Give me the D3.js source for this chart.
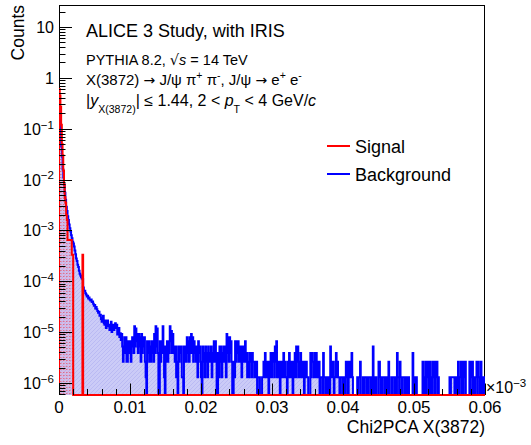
<!DOCTYPE html>
<html>
<head>
<meta charset="utf-8">
<script src="https://cdn.jsdelivr.net/npm/d3@7"></script>
<style>
  body { margin: 0; background: #fff; }
  svg { font-family: "Liberation Sans", Arial, Helvetica, sans-serif; }
</style>
</head>
<body>
<script>
// Axis ranges (x shown in units of 1e-3)
const xDomain = [0, 0.06];
const yDomain = [5.8e-7, 27];
const nBins = 600;

const xTicks = [0, 0.01, 0.02, 0.03, 0.04, 0.05, 0.06];
const xTickLabels = ['0', '0.01', '0.02', '0.03', '0.04', '0.05', '0.06'];
const yTicks = [1e-6, 1e-5, 1e-4, 1e-3, 1e-2, 1e-1, 1, 10];
const yTickBase = ['10', '10', '10', '10', '10', '10', '1', '10'];
const yTickExp = ['−6', '−5', '−4', '−3', '−2', '−1', '', ''];

const seriesNames = ['Signal', 'Background'];
const seriesColors = ['#ff0000', '#0000ff'];

// Signal: first bins only, the rest are empty
const sigValues = [
  0.6, 0.45, 0.27, 0.12, 0.05, 0.03, 0.015, 0.008, 4.5e-3, 3.5e-3,
  2e-3, 1.6e-3, 6.5e-4, 6.5e-4, 6.5e-4, 6.5e-4, 6.5e-4, 6.5e-4, 3.3e-4, 3.3e-4,
  0, 0, 0, 0, 0, 0, 0, 0, 0, 0,
  0, 0, 0, 3.3e-4
];

// Background, 600 bins
const bkgValues = [
  0.3, 0.15, 0.08, 0.045, 0.028, 0.016, 0.011, 0.008, 0.0055, 0.004,
  0.0029, 0.0024, 0.0019, 0.0016, 0.0013, 0.0011, 9.5e-4, 8e-4, 7e-4, 6e-4,
  5.5e-4, 4.8e-4, 4e-4, 3.4e-4, 2.8e-4, 2.5e-4, 2.1e-4, 1.9e-4, 1.6e-4, 1.4e-4,
  1.3e-4, 1.2e-4, 1.15e-4, 1.1e-4, 7.5e-5, 6.5e-5, 6.5e-5, 5.8e-5, 5.5e-5, 5.0e-5,
  5.2e-5, 4.6e-5, 4.8e-5, 4.4e-5, 4.2e-5, 4.4e-5, 3.9e-5, 4.0e-5, 3.6e-5, 3.3e-5,
  3.4e-5, 2.9e-5, 3.1e-5, 2.8e-5, 2.6e-5, 2.4e-5, 2.5e-5, 2.1e-5, 2.2e-5, 1.8e-5,
  1.6e-5, 1.9e-5, 2.1e-5, 1.5e-5, 1.4e-5, 1.7e-5, 1.2e-5, 1.5e-5, 1.7e-5, 1.3e-5,
  1.4e-5, 1.1e-5, 1.3e-5, 1.6e-5, 1.0e-5, 1.2e-5, 1.4e-5, 1.1e-5, 1.4e-5, 1.5e-5,
  1.2e-5, 1.4e-5, 9e-6, 1.1e-5, 1.2e-5, 8e-6, 9.5e-6, 7e-6,
  9.2e-6, 5.2e-6, 2.6e-6, 3.9e-6, 7.9e-6, 3.9e-6, 7.9e-6, 2.6e-6, 2.6e-6, 6.6e-6,
  6.6e-6, 3.9e-6, 6.6e-6, 2.6e-6, 5.2e-6, 7.9e-6, 6.6e-6, 3.9e-6, 1.31e-5, 5.2e-6,
  1.18e-5, 6.6e-6, 9.2e-6, 3.9e-6, 9.2e-6, 5.2e-6, 7.9e-6, 2.6e-6, 9.2e-6, 3.9e-6,
  7.9e-6, 5.2e-6, 7.9e-6, 2.6e-6, 1.3e-6, 0, 6.6e-6, 3.9e-6, 6.6e-6, 2.6e-6,
  5.2e-6, 2.6e-6, 6.6e-6, 3.9e-6, 6.6e-6, 2.6e-6, 9.2e-6, 3.9e-6, 1.31e-5, 5.2e-6,
  1.18e-5, 3.9e-6, 0, 0, 6.6e-6, 2.6e-6, 6.6e-6, 3.9e-6, 1.31e-5, 5.2e-6,
  1.3e-6, 0, 5.2e-6, 2.6e-6, 6.6e-6, 2.6e-6, 6.6e-6, 3.9e-6, 1.31e-5, 6.6e-6,
  1.05e-5, 3.9e-6, 9.2e-6, 3.9e-6, 5.2e-6, 2.6e-6, 5.2e-6, 1.3e-6, 2.6e-6, 0,
  5.2e-6, 2.6e-6, 5.2e-6, 3.9e-6, 5.2e-6, 1.3e-6, 1.3e-6, 0, 5.2e-6, 2.6e-6,
  5.2e-6, 2.6e-6, 7.9e-6, 3.9e-6, 6.6e-6, 2.6e-6, 7.9e-6, 3.9e-6, 9.2e-6, 3.9e-6,
  7.9e-6, 2.6e-6, 6.6e-6, 3.9e-6, 5.2e-6, 2.6e-6, 5.2e-6, 1.3e-6, 6.6e-6, 3.9e-6,
  5.2e-6, 2.6e-6, 1.3e-6, 0, 5.2e-6, 2.6e-6, 3.9e-6, 1.3e-6, 5.2e-6, 2.6e-6,
  3.9e-6, 1.3e-6, 5.2e-6, 2.6e-6, 3.9e-6, 2.6e-6, 5.2e-6, 1.3e-6, 3.9e-6, 2.6e-6,
  6.6e-6, 2.6e-6, 6.6e-6, 3.9e-6, 0, 0, 3.9e-6, 1.3e-6, 5.2e-6, 2.6e-6,
  5.2e-6, 1.3e-6, 3.9e-6, 2.6e-6, 5.2e-6, 2.6e-6, 5.2e-6, 1.3e-6, 9.2e-6, 3.9e-6,
  7.9e-6, 2.6e-6, 7.9e-6, 3.9e-6, 6.6e-6, 2.6e-6, 0, 0, 2.6e-6, 1.3e-6,
  6.6e-6, 2.6e-6, 6.6e-6, 3.9e-6, 6.6e-6, 2.6e-6, 5.2e-6, 2.6e-6, 5.2e-6, 1.3e-6,
  5.2e-6, 2.6e-6, 5.2e-6, 2.6e-6, 6.6e-6, 2.6e-6, 3.9e-6, 1.3e-6, 2.6e-6, 1.3e-6,
  3.9e-6, 2.6e-6, 3.9e-6, 1.3e-6, 3.9e-6, 2.6e-6, 2.6e-6, 1.3e-6, 2.6e-6, 1.3e-6,
  2.6e-6, 0, 1.3e-6, 1.3e-6, 1.3e-6, 0, 0, 0, 1.3e-6, 1.3e-6,
  2.6e-6, 1.3e-6, 3.9e-6, 1.3e-6, 2.6e-6, 1.3e-6, 2.6e-6, 0, 2.6e-6, 1.3e-6,
  3.9e-6, 1.3e-6, 3.9e-6, 2.6e-6, 3.9e-6, 1.3e-6, 5.2e-6, 2.6e-6, 6.6e-6, 1.3e-6,
  2.6e-6, 1.3e-6, 2.6e-6, 0, 2.6e-6, 1.3e-6, 2.6e-6, 1.3e-6, 3.9e-6, 1.3e-6,
  2.6e-6, 1.3e-6, 1.3e-6, 0, 2.6e-6, 1.3e-6, 3.9e-6, 1.3e-6, 2.6e-6, 1.3e-6,
  2.6e-6, 0, 2.6e-6, 1.3e-6, 3.9e-6, 1.3e-6, 5.2e-6, 2.6e-6, 5.2e-6, 1.3e-6,
  2.6e-6, 1.3e-6, 3.9e-6, 1.3e-6, 2.6e-6, 1.3e-6, 2.6e-6, 0, 2.6e-6, 1.3e-6,
  2.6e-6, 1.3e-6, 1.3e-6, 0, 0, 0, 3.9e-6, 1.3e-6, 3.9e-6, 2.6e-6,
  2.6e-6, 1.3e-6, 3.9e-6, 1.3e-6, 3.9e-6, 1.3e-6, 2.6e-6, 1.3e-6, 2.6e-6, 0,
  1.3e-6, 1.3e-6, 1.3e-6, 0, 3.9e-6, 1.3e-6, 1.3e-6, 0, 1.3e-6, 1.3e-6,
  0, 0, 1.3e-6, 0, 5.2e-6, 1.3e-6, 2.6e-6, 1.3e-6, 2.6e-6, 0,
  1.3e-6, 1.3e-6, 3.9e-6, 1.3e-6, 2.6e-6, 1.3e-6, 1.3e-6, 0, 1.3e-6, 1.3e-6,
  1.3e-6, 0, 1.3e-6, 1.3e-6, 0, 0, 2.6e-6, 1.3e-6, 2.6e-6, 0,
  2.6e-6, 1.3e-6, 2.6e-6, 1.3e-6, 3.9e-6, 1.3e-6, 0, 0, 0, 0,
  0, 0, 1.3e-6, 0, 1.3e-6, 1.3e-6, 2.6e-6, 0, 0, 0,
  1.3e-6, 0, 1.3e-6, 1.3e-6, 1.3e-6, 0, 1.3e-6, 0, 1.3e-6, 1.3e-6,
  1.3e-6, 0, 1.3e-6, 0, 5.2e-6, 0, 1.3e-6, 0, 1.3e-6, 0,
  0, 0, 2.6e-6, 2.6e-6, 1.3e-6, 0, 1.3e-6, 0, 1.3e-6, 1.3e-6,
  1.3e-6, 0, 1.3e-6, 0, 1.3e-6, 0, 2.6e-6, 0, 0, 0,
  1.3e-6, 0, 1.3e-6, 1.3e-6, 1.3e-6, 0, 1.3e-6, 0, 3.9e-6, 1.3e-6,
  1.3e-6, 0, 2.6e-6, 1.3e-6, 1.3e-6, 0, 1.3e-6, 1.3e-6, 1.3e-6, 0,
  1.3e-6, 0, 1.3e-6, 0, 1.3e-6, 0, 0, 0, 0, 0,
  3.9e-6, 0, 1.3e-6, 0, 1.3e-6, 1.3e-6, 0, 0, 0, 0,
  0, 0, 0, 0, 2.6e-6, 0, 1.3e-6, 0, 2.6e-6, 0,
  2.6e-6, 1.3e-6, 2.6e-6, 0, 2.6e-6, 0, 1.3e-6, 0, 2.6e-6, 1.3e-6,
  2.6e-6, 0, 2.6e-6, 1.3e-6, 2.6e-6, 0, 1.3e-6, 0, 0, 0,
  0, 0, 0, 0, 0, 0, 0, 0, 0, 0,
  0, 0, 1.3e-6, 0, 1.3e-6, 1.3e-6, 1.3e-6, 1.3e-6, 1.3e-6, 0,
  1.3e-6, 0, 1.3e-6, 0, 2.6e-6, 0, 1.3e-6, 1.3e-6, 2.6e-6, 0,
  2.6e-6, 0, 2.6e-6, 1.3e-6, 2.6e-6, 0, 0, 0, 0, 0,
  2.6e-6, 0, 2.6e-6, 1.3e-6, 2.6e-6, 0, 1.3e-6, 0, 1.3e-6, 1.3e-6,
  2.6e-6, 0, 2.6e-6, 1.3e-6, 1.3e-6, 0, 2.6e-6, 0, 1.3e-6, 0,
  1.3e-6, 0
];

const width = 531, height = 445;
const frame = { left: 59, right: 485, top: 5, bottom: 395 };

const svg = d3.select('body').append('svg')
              .attr('width', width)
              .attr('height', height);

const x = d3.scaleLinear().domain(xDomain).range([frame.left, frame.right]);
const y = d3.scaleLog().domain(yDomain).range([frame.bottom, frame.top]);

// Fill patterns
const defs = svg.append('defs');
const pb = defs.append('pattern')
               .attr('id', 'bkgFill')
               .attr('patternUnits', 'userSpaceOnUse')
               .attr('width', 4).attr('height', 4);
pb.append('rect').attr('width', 4).attr('height', 4).attr('fill', '#cbcbf7');
pb.append('path').attr('d', 'M0,4L4,0M-1,1L1,-1M3,5L5,3')
  .attr('stroke', '#b6b6f2').attr('stroke-width', 0.8);

const ps = defs.append('pattern')
               .attr('id', 'sigFill')
               .attr('patternUnits', 'userSpaceOnUse')
               .attr('width', 3).attr('height', 3);
ps.append('rect').attr('width', 3).attr('height', 3).attr('fill', 'rgba(255,90,130,0.12)');
ps.append('rect').attr('width', 1.5).attr('height', 1).attr('fill', 'rgba(255,0,0,0.4)');

defs.append('clipPath').attr('id', 'plotClip')
    .append('rect')
    .attr('x', frame.left).attr('y', frame.top)
    .attr('width', frame.right - frame.left)
    .attr('height', frame.bottom - frame.top + 1);

// Frame (drawn first, the red baseline of the empty bins covers its bottom)
svg.append('rect')
   .attr('x', frame.left + 0.5).attr('y', frame.top + 0.5)
   .attr('width', frame.right - frame.left - 1)
   .attr('height', frame.bottom - frame.top - 1)
   .attr('fill', 'none').attr('stroke', '#000').attr('stroke-width', 1);

// Histogram outline: zero bins drop to the frame bottom
const binW = (xDomain[1] - xDomain[0]) / nBins;
function histPath(values, closed) {
  const y0 = frame.bottom;
  let d = `M${x(xDomain[0])},${y0}`;
  for (let i = 0; i < nBins; i++) {
    const v = values[i] || 0;
    const yy = v > 0 ? y(v) : y0;
    d += `V${yy}H${x(xDomain[0] + (i + 1) * binW)}`;
  }
  d += `V${y0}`;
  if (closed) d += 'Z';
  return d;
}

const plot = svg.append('g').attr('clip-path', 'url(#plotClip)');

plot.append('path').attr('d', histPath(bkgValues, true))
    .attr('fill', 'url(#bkgFill)').attr('stroke', 'none');
plot.append('path').attr('d', histPath(bkgValues, false))
    .attr('fill', 'none').attr('stroke', seriesColors[1]).attr('stroke-width', 2);

plot.append('path').attr('d', histPath(sigValues, true))
    .attr('fill', 'url(#sigFill)').attr('stroke', 'none');
plot.append('path').attr('d', histPath(sigValues, false))
    .attr('fill', 'none').attr('stroke', seriesColors[0]).attr('stroke-width', 2);

// Y axis ticks
const axes = svg.append('g').attr('stroke', '#000').attr('stroke-width', 1);
y.ticks().forEach(t => {
  const isMajor = Math.abs(Math.log10(t) - Math.round(Math.log10(t))) < 1e-9;
  const yy = Math.round(y(t)) + 0.5;
  axes.append('line')
      .attr('x1', frame.left).attr('x2', frame.left + (isMajor ? 13 : 6.5))
      .attr('y1', yy).attr('y2', yy);
});

// X axis ticks
x.ticks(30).forEach(t => {
  const isMajor = xTicks.some(m => Math.abs(m - t) < 1e-9);
  const xx = Math.round(x(t)) + 0.5;
  axes.append('line')
      .attr('x1', xx).attr('x2', xx)
      .attr('y1', frame.bottom).attr('y2', frame.bottom - (isMajor ? 11.5 : 6));
});

// Rich text helper (superscript / subscript / italic parts)
function addRich(g, px, py, size, parts, anchor) {
  const t = g.append('text')
             .attr('x', px).attr('y', py)
             .attr('text-anchor', anchor || 'start')
             .style('font-size', size + 'px');
  let off = 0;
  parts.forEach(p => {
    const target = p.sup ? -size * (p.rise || 0.4) : p.sub ? size * (p.drop || 0.3) : 0;
    const s = t.append('tspan')
               .attr('dy', target - off)
               .style('font-size', (p.sup || p.sub ? size * (p.scale || 0.7) : (p.size || size)) + 'px')
               .text(p.t);
    if (p.it) s.style('font-style', 'italic');
    if (p.ff) s.style('font-family', p.ff);
    off = target;
  });
  return t;
}

// Tick labels
const labels = svg.append('g').attr('fill', '#000');
yTicks.forEach((t, i) => {
  const parts = [{ t: yTickBase[i] }];
  if (yTickExp[i]) parts.push({ t: yTickExp[i], sup: true, rise: 0.38, scale: 0.72 });
  addRich(labels, 54, y(t) + 6, 16, parts, 'end');
});
xTicks.forEach((t, i) => {
  labels.append('text')
        .attr('x', x(t)).attr('y', 413)
        .attr('text-anchor', 'middle')
        .style('font-size', '17px')
        .text(xTickLabels[i]);
});
addRich(labels, 486, 393, 16, [{ t: '×10' }, { t: '−3', sup: true, rise: 0.4, scale: 0.72 }]);

// Axis titles
labels.append('text')
      .attr('x', frame.right).attr('y', 433)
      .attr('text-anchor', 'end')
      .style('font-size', '17.5px')
      .text('Chi2PCA X(3872)');
labels.append('text')
      .attr('transform', 'translate(24,5) rotate(-90)')
      .attr('text-anchor', 'end')
      .style('font-size', '17.5px')
      .text('Counts');

// Info text
const arrowFont = '"DejaVu Sans", sans-serif';
addRich(labels, 86, 37, 18, [{ t: 'ALICE 3 Study, with IRIS' }]);
addRich(labels, 86, 65, 14.5, [{ t: 'PYTHIA 8.2, ' }, { t: '√', ff: arrowFont }, { t: 's', it: true }, { t: ' = 14 TeV' }]);
addRich(labels, 86, 85, 15, [
  { t: 'X(3872) ' }, { t: '→', ff: arrowFont, size: 14 }, { t: ' J/ψ π' }, { t: '+', sup: true },
  { t: ' π' }, { t: '-', sup: true },
  { t: ', J/ψ ' }, { t: '→', ff: arrowFont, size: 14 }, { t: ' e' }, { t: '+', sup: true },
  { t: ' e' }, { t: '-', sup: true }
]);
addRich(labels, 86, 106, 16, [
  { t: '|' }, { t: 'y', it: true }, { t: 'X(3872)', sub: true, drop: 0.42, scale: 0.66 },
  { t: '| ≤ 1.44, 2 < ' }, { t: 'p', it: true }, { t: 'T', sub: true, drop: 0.42, scale: 0.66 },
  { t: ' < 4 GeV/' }, { t: 'c', it: true }
]);

// Legend
const legend = svg.append('g');
const legendY = [146, 174];
seriesNames.forEach((name, i) => {
  legend.append('line')
        .attr('x1', 327).attr('x2', 350)
        .attr('y1', legendY[i]).attr('y2', legendY[i])
        .attr('stroke', seriesColors[i]).attr('stroke-width', 2);
  legend.append('text')
        .attr('x', 355).attr('y', legendY[i] + 7)
        .style('font-size', '18px')
        .text(name);
});
</script>
</body>
</html>
